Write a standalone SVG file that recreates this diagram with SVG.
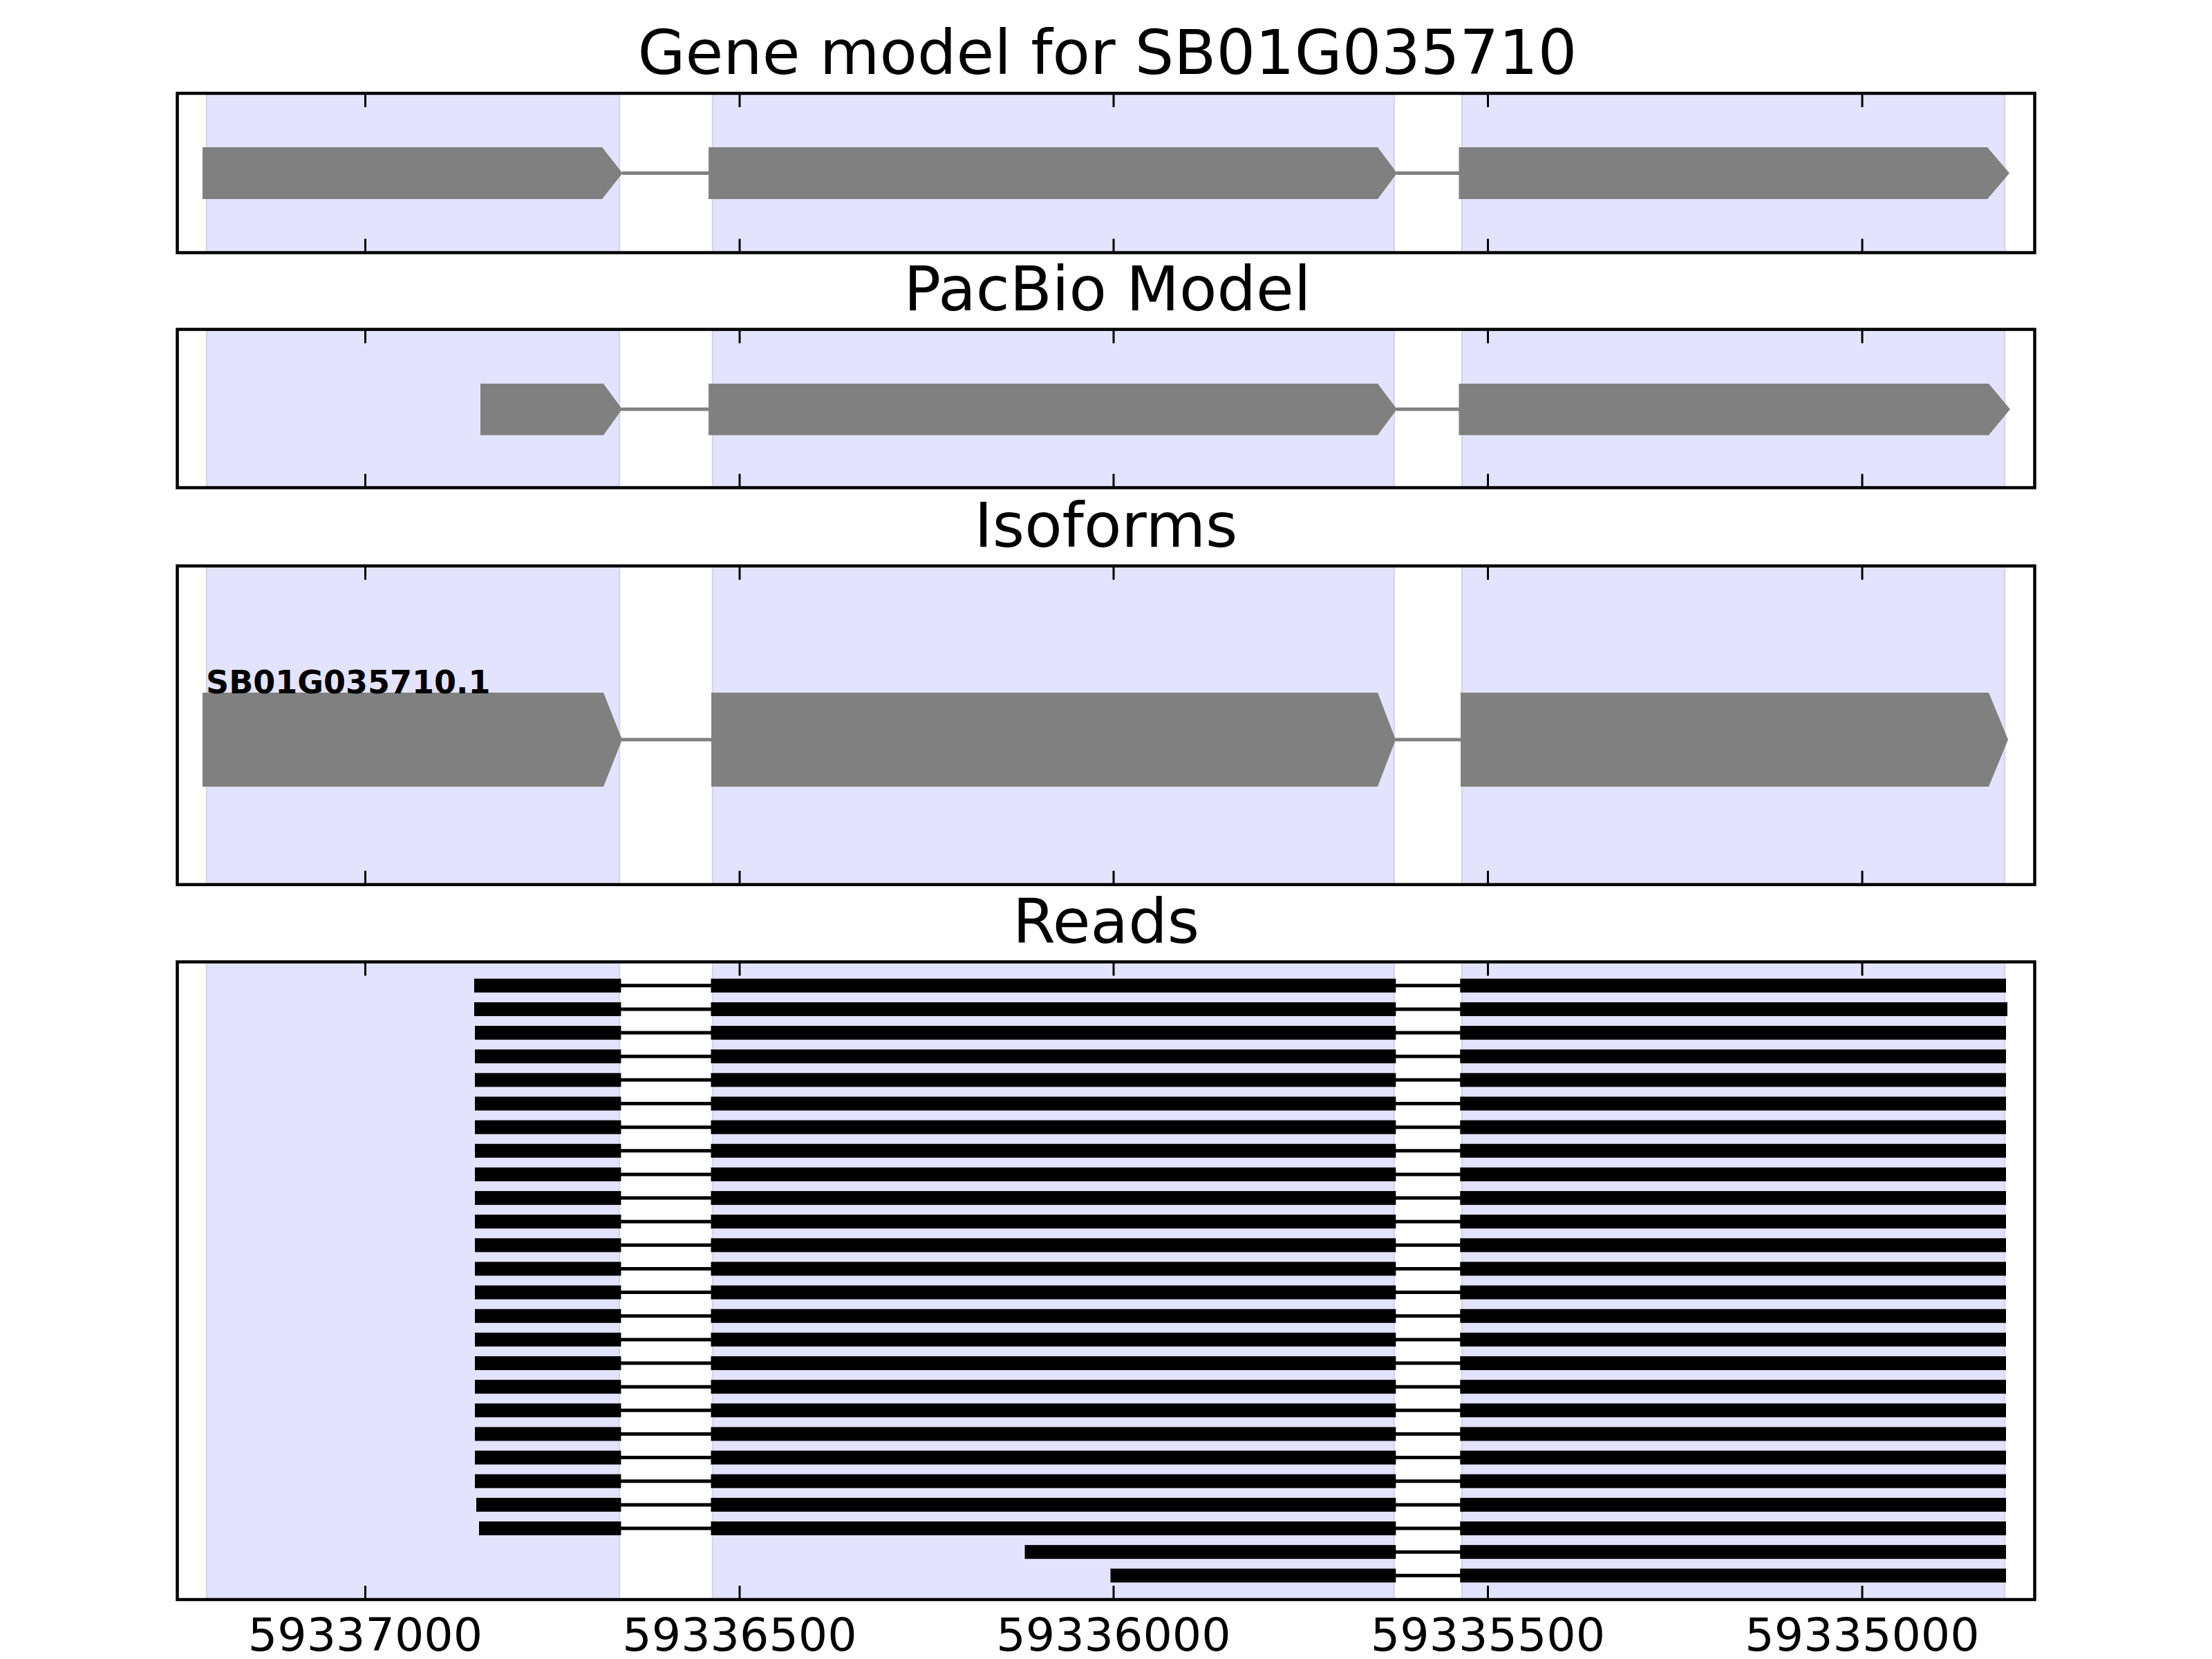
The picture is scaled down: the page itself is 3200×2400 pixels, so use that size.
<svg xmlns="http://www.w3.org/2000/svg" width="3200" height="2400" viewBox="0 0 3200 2400">
<style>
.bg{fill:#fff}
.frame{fill:none;stroke:#000;stroke-width:4.5}
.shade{fill:#e3e3fd;stroke:#d6d6ec;stroke-width:2.5}
.gene{fill:#808080}
.intron{stroke:#808080;stroke-width:5}
.read{fill:#000}
.rintron{stroke:#000;stroke-width:5}
.tick{stroke:#000;stroke-width:3}
.title{font-family:"DejaVu Sans","Liberation Sans",sans-serif;font-size:89px;text-anchor:middle;fill:#000}
.tl{font-family:"DejaVu Sans","Liberation Sans",sans-serif;font-size:66.7px;text-anchor:middle;fill:#000}
.label{font-family:"DejaVu Sans","Liberation Sans",sans-serif;font-size:46px;font-weight:bold;fill:#000}
</style>
<rect class="bg" x="0" y="0" width="3200" height="2400"/>

<!-- Panel 1: Gene model -->
<g id="panel-gene-model">
<text class="title" x="1602" y="107">Gene model for SB01G035710</text>
<rect class="shade" x="299" y="135" width="597" height="230.5"/>
<rect class="shade" x="1031" y="135" width="985.7" height="230.5"/>
<rect class="shade" x="2115" y="135" width="785" height="230.5"/>
<g id="gene-exons">
<polygon class="gene" points="293,213 871,213 900.5,250.5 871,288 293,288"/>
<polygon class="gene" points="1025,213 1993,213 2021,250.5 1993,288 1025,288"/>
<polygon class="gene" points="2110.5,213 2875,213 2907,250.5 2875,288 2110.5,288"/>
</g>
</g>

<!-- Panel 2: PacBio Model -->
<g id="panel-pacbio">
<text class="title" x="1602" y="449">PacBio Model</text>
<rect class="shade" x="299" y="476.5" width="597" height="229"/>
<rect class="shade" x="1031" y="476.5" width="985.7" height="229"/>
<rect class="shade" x="2115" y="476.5" width="785" height="229"/>
<g id="pacbio-exons">
<polygon class="gene" points="695,555 873,555 900,592 873,629.5 695,629.5"/>
<polygon class="gene" points="1025,555 1993,555 2021,592 1993,629.5 1025,629.5"/>
<polygon class="gene" points="2110.5,555 2877,555 2908,592 2877,629.5 2110.5,629.5"/>
</g>
</g>

<!-- Panel 3: Isoforms -->
<g id="panel-isoforms">
<text class="title" x="1600" y="791">Isoforms</text>
<rect class="shade" x="299" y="818.7" width="597" height="461"/>
<rect class="shade" x="1031" y="818.7" width="985.7" height="461"/>
<rect class="shade" x="2115" y="818.7" width="785" height="461"/>
<g id="isoform-exons">
<polygon class="gene" points="293,1002 873,1002 900,1070 873,1138 293,1138"/>
<polygon class="gene" points="1029,1002 1993,1002 2019,1070 1993,1138 1029,1138"/>
<polygon class="gene" points="2113,1002 2877,1002 2905,1070 2877,1138 2113,1138"/>
</g>
<text class="label" x="298" y="1003">SB01G035710.1</text>
</g>

<!-- Panel 4: Reads -->
<g id="panel-reads">
<text class="title" x="1600" y="1364">Reads</text>
<rect class="shade" x="299" y="1391.5" width="597" height="922.5"/>
<rect class="shade" x="1031" y="1391.5" width="985.7" height="922.5"/>
<rect class="shade" x="2115" y="1391.5" width="785" height="922.5"/>
<g id="reads">
<g id="read-01" transform="translate(0,1425.8)"><rect class="read" x="686" y="-10" width="212.4" height="20"/><rect class="read" x="1028.5" y="-10" width="990.8" height="20"/><rect class="read" x="2112.3" y="-10" width="789.7" height="20"/></g>
<g id="read-02" transform="translate(0,1459.94)"><rect class="read" x="686" y="-10" width="212.4" height="20"/><rect class="read" x="1028.5" y="-10" width="990.8" height="20"/><rect class="read" x="2112.3" y="-10" width="791.7" height="20"/></g>
<g id="read-03" transform="translate(0,1494.08)"><rect class="read" x="687" y="-10" width="211.4" height="20"/><rect class="read" x="1028.5" y="-10" width="990.8" height="20"/><rect class="read" x="2112.3" y="-10" width="789.7" height="20"/></g>
<g id="read-04" transform="translate(0,1528.22)"><rect class="read" x="687" y="-10" width="211.4" height="20"/><rect class="read" x="1028.5" y="-10" width="990.8" height="20"/><rect class="read" x="2112.3" y="-10" width="789.7" height="20"/></g>
<g id="read-05" transform="translate(0,1562.36)"><rect class="read" x="687" y="-10" width="211.4" height="20"/><rect class="read" x="1028.5" y="-10" width="990.8" height="20"/><rect class="read" x="2112.3" y="-10" width="789.7" height="20"/></g>
<g id="read-06" transform="translate(0,1596.5)"><rect class="read" x="687" y="-10" width="211.4" height="20"/><rect class="read" x="1028.5" y="-10" width="990.8" height="20"/><rect class="read" x="2112.3" y="-10" width="789.7" height="20"/></g>
<g id="read-07" transform="translate(0,1630.64)"><rect class="read" x="687" y="-10" width="211.4" height="20"/><rect class="read" x="1028.5" y="-10" width="990.8" height="20"/><rect class="read" x="2112.3" y="-10" width="789.7" height="20"/></g>
<g id="read-08" transform="translate(0,1664.78)"><rect class="read" x="687" y="-10" width="211.4" height="20"/><rect class="read" x="1028.5" y="-10" width="990.8" height="20"/><rect class="read" x="2112.3" y="-10" width="789.7" height="20"/></g>
<g id="read-09" transform="translate(0,1698.92)"><rect class="read" x="687" y="-10" width="211.4" height="20"/><rect class="read" x="1028.5" y="-10" width="990.8" height="20"/><rect class="read" x="2112.3" y="-10" width="789.7" height="20"/></g>
<g id="read-10" transform="translate(0,1733.06)"><rect class="read" x="687" y="-10" width="211.4" height="20"/><rect class="read" x="1028.5" y="-10" width="990.8" height="20"/><rect class="read" x="2112.3" y="-10" width="789.7" height="20"/></g>
<g id="read-11" transform="translate(0,1767.2)"><rect class="read" x="687" y="-10" width="211.4" height="20"/><rect class="read" x="1028.5" y="-10" width="990.8" height="20"/><rect class="read" x="2112.3" y="-10" width="789.7" height="20"/></g>
<g id="read-12" transform="translate(0,1801.34)"><rect class="read" x="687" y="-10" width="211.4" height="20"/><rect class="read" x="1028.5" y="-10" width="990.8" height="20"/><rect class="read" x="2112.3" y="-10" width="789.7" height="20"/></g>
<g id="read-13" transform="translate(0,1835.48)"><rect class="read" x="687" y="-10" width="211.4" height="20"/><rect class="read" x="1028.5" y="-10" width="990.8" height="20"/><rect class="read" x="2112.3" y="-10" width="789.7" height="20"/></g>
<g id="read-14" transform="translate(0,1869.62)"><rect class="read" x="687" y="-10" width="211.4" height="20"/><rect class="read" x="1028.5" y="-10" width="990.8" height="20"/><rect class="read" x="2112.3" y="-10" width="789.7" height="20"/></g>
<g id="read-15" transform="translate(0,1903.76)"><rect class="read" x="687" y="-10" width="211.4" height="20"/><rect class="read" x="1028.5" y="-10" width="990.8" height="20"/><rect class="read" x="2112.3" y="-10" width="789.7" height="20"/></g>
<g id="read-16" transform="translate(0,1937.9)"><rect class="read" x="687" y="-10" width="211.4" height="20"/><rect class="read" x="1028.5" y="-10" width="990.8" height="20"/><rect class="read" x="2112.3" y="-10" width="789.7" height="20"/></g>
<g id="read-17" transform="translate(0,1972.04)"><rect class="read" x="687" y="-10" width="211.4" height="20"/><rect class="read" x="1028.5" y="-10" width="990.8" height="20"/><rect class="read" x="2112.3" y="-10" width="789.7" height="20"/></g>
<g id="read-18" transform="translate(0,2006.18)"><rect class="read" x="687" y="-10" width="211.4" height="20"/><rect class="read" x="1028.5" y="-10" width="990.8" height="20"/><rect class="read" x="2112.3" y="-10" width="789.7" height="20"/></g>
<g id="read-19" transform="translate(0,2040.32)"><rect class="read" x="687" y="-10" width="211.4" height="20"/><rect class="read" x="1028.5" y="-10" width="990.8" height="20"/><rect class="read" x="2112.3" y="-10" width="789.7" height="20"/></g>
<g id="read-20" transform="translate(0,2074.46)"><rect class="read" x="687" y="-10" width="211.4" height="20"/><rect class="read" x="1028.5" y="-10" width="990.8" height="20"/><rect class="read" x="2112.3" y="-10" width="789.7" height="20"/></g>
<g id="read-21" transform="translate(0,2108.6)"><rect class="read" x="687" y="-10" width="211.4" height="20"/><rect class="read" x="1028.5" y="-10" width="990.8" height="20"/><rect class="read" x="2112.3" y="-10" width="789.7" height="20"/></g>
<g id="read-22" transform="translate(0,2142.74)"><rect class="read" x="687" y="-10" width="211.4" height="20"/><rect class="read" x="1028.5" y="-10" width="990.8" height="20"/><rect class="read" x="2112.3" y="-10" width="789.7" height="20"/></g>
<g id="read-23" transform="translate(0,2176.88)"><rect class="read" x="689" y="-10" width="209.4" height="20"/><rect class="read" x="1028.5" y="-10" width="990.8" height="20"/><rect class="read" x="2112.3" y="-10" width="789.7" height="20"/></g>
<g id="read-24" transform="translate(0,2211.02)"><rect class="read" x="693" y="-10" width="205.4" height="20"/><rect class="read" x="1028.5" y="-10" width="990.8" height="20"/><rect class="read" x="2112.3" y="-10" width="789.7" height="20"/></g>
<g id="read-25" transform="translate(0,2245.16)"><rect class="read" x="1482.5" y="-10" width="536.8" height="20"/><rect class="read" x="2112.3" y="-10" width="789.7" height="20"/></g>
<g id="read-26" transform="translate(0,2279.3)"><rect class="read" x="1606.5" y="-10" width="412.8" height="20"/><rect class="read" x="2112.3" y="-10" width="789.7" height="20"/></g>
</g>
</g>

<!-- Connectors: introns -->
<g id="connectors">
<line class="intron" x1="900" y1="250.5" x2="1026" y2="250.5"/>
<line class="intron" x1="2020" y1="250.5" x2="2111" y2="250.5"/>
<line class="intron" x1="899" y1="592" x2="1026" y2="592"/>
<line class="intron" x1="2020" y1="592" x2="2111" y2="592"/>
<line class="intron" x1="899" y1="1070" x2="1030" y2="1070"/>
<line class="intron" x1="2018" y1="1070" x2="2114" y2="1070"/>
<line class="rintron" x1="898" y1="1425.8" x2="1029" y2="1425.8"/><line class="rintron" x1="2019" y1="1425.8" x2="2113" y2="1425.8"/>
<line class="rintron" x1="898" y1="1459.94" x2="1029" y2="1459.94"/><line class="rintron" x1="2019" y1="1459.94" x2="2113" y2="1459.94"/>
<line class="rintron" x1="898" y1="1494.08" x2="1029" y2="1494.08"/><line class="rintron" x1="2019" y1="1494.08" x2="2113" y2="1494.08"/>
<line class="rintron" x1="898" y1="1528.22" x2="1029" y2="1528.22"/><line class="rintron" x1="2019" y1="1528.22" x2="2113" y2="1528.22"/>
<line class="rintron" x1="898" y1="1562.36" x2="1029" y2="1562.36"/><line class="rintron" x1="2019" y1="1562.36" x2="2113" y2="1562.36"/>
<line class="rintron" x1="898" y1="1596.5" x2="1029" y2="1596.5"/><line class="rintron" x1="2019" y1="1596.5" x2="2113" y2="1596.5"/>
<line class="rintron" x1="898" y1="1630.64" x2="1029" y2="1630.64"/><line class="rintron" x1="2019" y1="1630.64" x2="2113" y2="1630.64"/>
<line class="rintron" x1="898" y1="1664.78" x2="1029" y2="1664.78"/><line class="rintron" x1="2019" y1="1664.78" x2="2113" y2="1664.78"/>
<line class="rintron" x1="898" y1="1698.92" x2="1029" y2="1698.92"/><line class="rintron" x1="2019" y1="1698.92" x2="2113" y2="1698.92"/>
<line class="rintron" x1="898" y1="1733.06" x2="1029" y2="1733.06"/><line class="rintron" x1="2019" y1="1733.06" x2="2113" y2="1733.06"/>
<line class="rintron" x1="898" y1="1767.2" x2="1029" y2="1767.2"/><line class="rintron" x1="2019" y1="1767.2" x2="2113" y2="1767.2"/>
<line class="rintron" x1="898" y1="1801.34" x2="1029" y2="1801.34"/><line class="rintron" x1="2019" y1="1801.34" x2="2113" y2="1801.34"/>
<line class="rintron" x1="898" y1="1835.48" x2="1029" y2="1835.48"/><line class="rintron" x1="2019" y1="1835.48" x2="2113" y2="1835.48"/>
<line class="rintron" x1="898" y1="1869.62" x2="1029" y2="1869.62"/><line class="rintron" x1="2019" y1="1869.62" x2="2113" y2="1869.62"/>
<line class="rintron" x1="898" y1="1903.76" x2="1029" y2="1903.76"/><line class="rintron" x1="2019" y1="1903.76" x2="2113" y2="1903.76"/>
<line class="rintron" x1="898" y1="1937.9" x2="1029" y2="1937.9"/><line class="rintron" x1="2019" y1="1937.9" x2="2113" y2="1937.9"/>
<line class="rintron" x1="898" y1="1972.04" x2="1029" y2="1972.04"/><line class="rintron" x1="2019" y1="1972.04" x2="2113" y2="1972.04"/>
<line class="rintron" x1="898" y1="2006.18" x2="1029" y2="2006.18"/><line class="rintron" x1="2019" y1="2006.18" x2="2113" y2="2006.18"/>
<line class="rintron" x1="898" y1="2040.32" x2="1029" y2="2040.32"/><line class="rintron" x1="2019" y1="2040.32" x2="2113" y2="2040.32"/>
<line class="rintron" x1="898" y1="2074.46" x2="1029" y2="2074.46"/><line class="rintron" x1="2019" y1="2074.46" x2="2113" y2="2074.46"/>
<line class="rintron" x1="898" y1="2108.6" x2="1029" y2="2108.6"/><line class="rintron" x1="2019" y1="2108.6" x2="2113" y2="2108.6"/>
<line class="rintron" x1="898" y1="2142.74" x2="1029" y2="2142.74"/><line class="rintron" x1="2019" y1="2142.74" x2="2113" y2="2142.74"/>
<line class="rintron" x1="898" y1="2176.88" x2="1029" y2="2176.88"/><line class="rintron" x1="2019" y1="2176.88" x2="2113" y2="2176.88"/>
<line class="rintron" x1="898" y1="2211.02" x2="1029" y2="2211.02"/><line class="rintron" x1="2019" y1="2211.02" x2="2113" y2="2211.02"/>
<line class="rintron" x1="2019" y1="2245.16" x2="2113" y2="2245.16"/>
<line class="rintron" x1="2019" y1="2279.3" x2="2113" y2="2279.3"/>
</g>

<!-- Axes frames and ticks -->
<g id="axes">
<rect class="frame" x="256.5" y="135" width="2687" height="230.5"/>
<rect class="frame" x="256.5" y="476.5" width="2687" height="229"/>
<rect class="frame" x="256.5" y="818.7" width="2687" height="461"/>
<rect class="frame" x="256.5" y="1391.5" width="2687" height="922.5"/>
<path class="tick" d="M528.5,135v20M1070,135v20M1611,135v20M2152.5,135v20M2694,135v20M528.5,365.5v-20M1070,365.5v-20M1611,365.5v-20M2152.5,365.5v-20M2694,365.5v-20"/>
<path class="tick" d="M528.5,476.5v20M1070,476.5v20M1611,476.5v20M2152.5,476.5v20M2694,476.5v20M528.5,705.5v-20M1070,705.5v-20M1611,705.5v-20M2152.5,705.5v-20M2694,705.5v-20"/>
<path class="tick" d="M528.5,818.7v20M1070,818.7v20M1611,818.7v20M2152.5,818.7v20M2694,818.7v20M528.5,1279.7v-20M1070,1279.7v-20M1611,1279.7v-20M2152.5,1279.7v-20M2694,1279.7v-20"/>
<path class="tick" d="M528.5,1391.5v20M1070,1391.5v20M1611,1391.5v20M2152.5,1391.5v20M2694,1391.5v20M528.5,2314v-20M1070,2314v-20M1611,2314v-20M2152.5,2314v-20M2694,2314v-20"/>
<text class="tl" x="528.5" y="2388">59337000</text>
<text class="tl" x="1070" y="2388">59336500</text>
<text class="tl" x="1611" y="2388">59336000</text>
<text class="tl" x="2152.5" y="2388">59335500</text>
<text class="tl" x="2694" y="2388">59335000</text>
</g>
</svg>
